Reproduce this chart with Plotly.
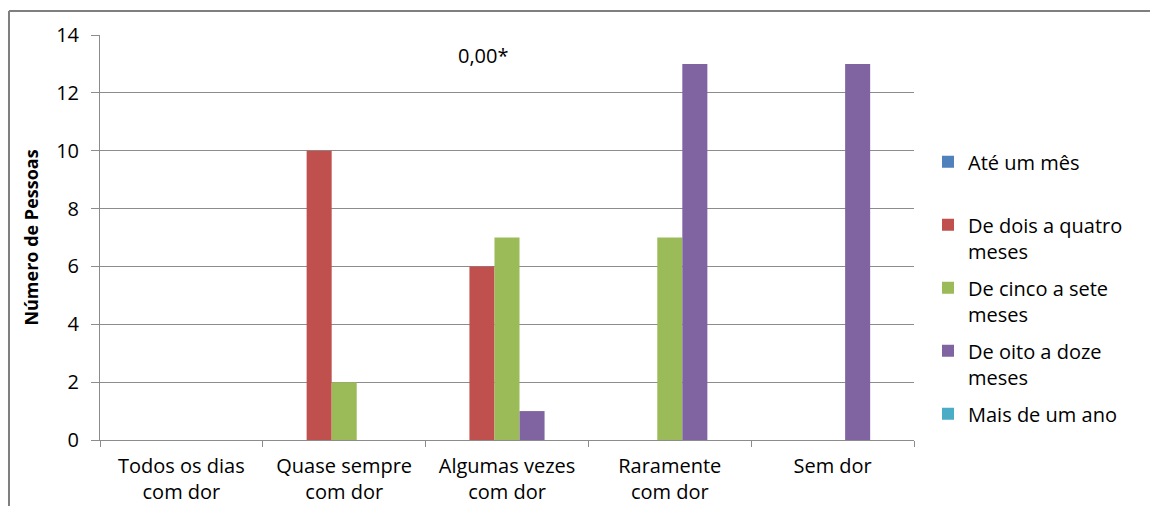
import plotly.graph_objects as go

# Pain frequency categories (x axis)
categories = [
    "Todos os dias<br>com dor",
    "Quase sempre<br>com dor",
    "Algumas vezes<br>com dor",
    "Raramente<br>com dor",
    "Sem dor",
]

# Duration groups (one bar series each)
series_names = [
    "Até um mês<br> ",
    "De dois a quatro<br>meses",
    "De cinco a sete<br>meses",
    "De oito a doze<br>meses",
    "Mais de um ano",
]

ate_um_mes = [0, 0, 0, 0, 0]
dois_a_quatro = [0, 10, 6, 0, 0]
cinco_a_sete = [0, 2, 7, 7, 0]
oito_a_doze = [0, 0, 1, 13, 13]
mais_de_um_ano = [0, 0, 0, 0, 0]

series_values = [ate_um_mes, dois_a_quatro, cinco_a_sete, oito_a_doze, mais_de_um_ano]
colors = ["#4F81BD", "#C0504D", "#9BBB59", "#8064A2", "#4BACC6"]

FONT = "Open Sans"
GRID = "#8C8C8C"

fig = go.Figure()
for i, (name, vals, col) in enumerate(zip(series_names, series_values, colors)):
    fig.add_trace(go.Bar(
        x=categories,
        y=vals,
        name=name,
        marker=dict(color=col, line=dict(width=0)),
        legendgroup=f"g{i}",
    ))

fig.update_layout(
    width=1150,
    height=506,
    margin=dict(l=100, r=236, t=35, b=66),
    paper_bgcolor="white",
    plot_bgcolor="white",
    barmode="group",
    bargap=0.2308,
    bargroupgap=0,
    font=dict(family=FONT, size=20, color="#000000"),
    legend=dict(
        x=1.0172,
        xanchor="left",
        y=0.735,
        yanchor="top",
        valign="top",
        tracegroupgap=8,
        font=dict(family=FONT, size=20, color="#000000"),
        bgcolor="rgba(0,0,0,0)",
    ),
    xaxis=dict(
        automargin=False,
        showline=True,
        linecolor=GRID,
        linewidth=1,
        ticks="outside",
        tickson="boundaries",
        ticklen=6,
        tickcolor=GRID,
        showgrid=False,
        ticklabelstandoff=8,
        tickfont=dict(family=FONT, size=20),
    ),
    yaxis=dict(
        automargin=False,
        range=[0, 14],
        dtick=2,
        showline=True,
        linecolor=GRID,
        linewidth=1,
        ticks="outside",
        ticklen=8,
        tickcolor=GRID,
        showgrid=True,
        gridcolor=GRID,
        gridwidth=1,
        zeroline=False,
        ticklabelstandoff=8,
        tickfont=dict(family=FONT, size=20),
        title=dict(
            text="<b>Número de Pessoas</b>",
            font=dict(family=FONT, size=18),
            standoff=12,
        ),
    ),
    annotations=[
        dict(
            text="0,00*",
            x=0.4717, y=0.9506,
            xref="paper", yref="paper",
            xanchor="center", yanchor="middle",
            showarrow=False,
            font=dict(family=FONT, size=20),
        )
    ],
    shapes=[
        # chart frame (top and left edges)
        dict(type="line", xref="paper", yref="paper",
             x0=-0.1118, y0=1.0593, x1=1.4, y1=1.0593,
             line=dict(color="#7F7F7F", width=2)),
        dict(type="line", xref="paper", yref="paper",
             x0=-0.1118, y0=1.0593, x1=-0.1118, y1=-0.3,
             line=dict(color="#7F7F7F", width=2)),
    ],
)

fig.write_html("out.html")
